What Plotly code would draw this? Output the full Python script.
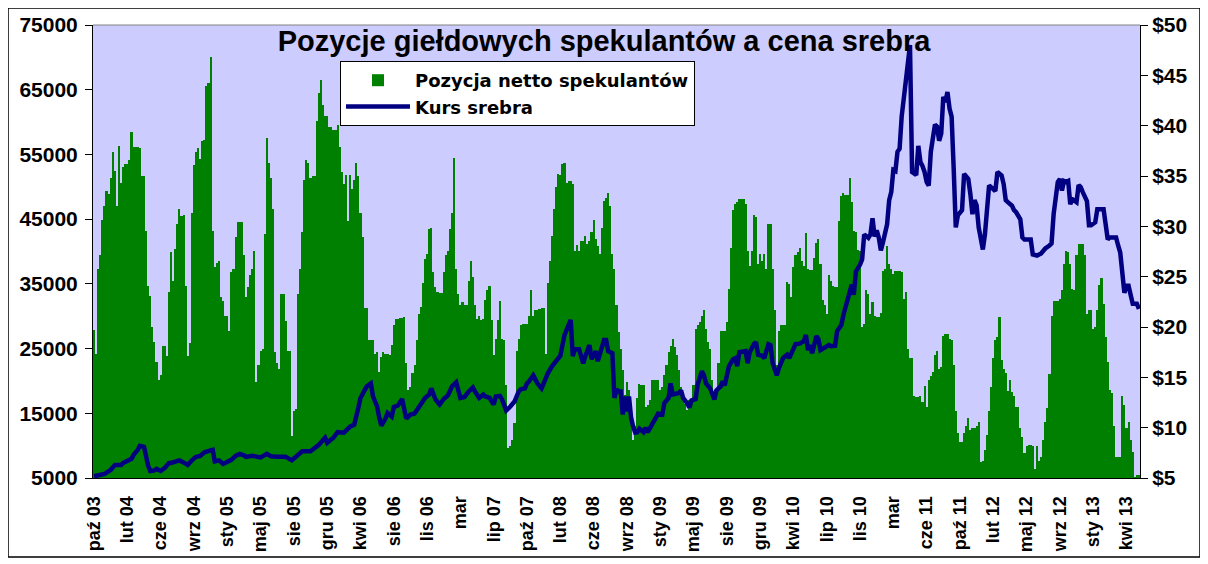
import plotly.graph_objects as go

# pozycja netto spekulantów, tygodniowo od paź 2003 (odczyt z wykresu)
net_position = [
    27900, 24200, 37300, 39400, 44900, 47000, 49400, 48900, 51400, 55400,
    52500, 47000, 56300, 50600, 53000, 53500, 53500, 54100, 58400, 56100,
    56100, 56100, 56000, 51600, 51600, 43200, 34600, 33100, 28400, 26000,
    23000, 20100, 20900, 25400, 25400, 23800, 33700, 39900, 35400, 40400,
    44200, 46500, 45500, 45700, 34600, 23800, 25800, 46000, 53400, 55300,
    56000, 54300, 57000, 57200, 65500, 66000, 70000, 43100, 37600, 38300,
    38500, 33000, 32400, 30100, 30100, 27700, 36900, 37300, 42200, 44600,
    44500, 44500, 39400, 33000, 34500, 36400, 37300, 40100, 19900, 22400,
    24700, 25000, 42700, 57500, 53700, 51400, 46500, 24500, 22800, 21900,
    33500, 33400, 29300, 24600, 24600, 11500, 15300, 15600, 33400, 37300,
    43000, 51000, 54200, 53700, 51400, 51600, 51700, 60200, 64500, 66500,
    62700, 61000, 61000, 59200, 59200, 58800, 58700, 59500, 56100, 52300,
    50400, 51800, 44700, 51800, 49600, 51100,
    53700, 51700, 46000, 42200, 31300, 31300, 26400, 26300, 26400, 24200,
    24500, 21400, 23700, 24500, 24200, 24200, 24000, 25500, 28600, 29600,
    29600, 29700, 29700, 29900, 22700, 18600, 19100, 21200, 22400, 26300,
    30400, 31400, 35100, 38800, 39600, 43500, 43700, 36800, 34500, 33700,
    33600, 33600, 36900, 39400, 40100, 43500, 46000, 54500, 37300, 33500,
    31700, 32200, 31700, 31700, 35500, 38500, 36000, 31700, 29600, 30000,
    29400, 29600, 32500, 34000, 34700, 29400, 24000, 26500, 29400, 32400,
    26500, 26300, 19400, 9600, 9900, 10900, 13500, 24700, 26500, 28600,
    28800, 28800, 28800, 30100, 34000, 30100, 30900, 31000, 31100, 31300,
    31300, 24200, 35100, 38600, 42400, 46500, 49900, 51900, 51800, 53500,
    53700, 50600, 50900, 50900, 50400, 40100, 41000, 40100, 41700, 41700,
    42400, 41200, 41700, 43000, 44800, 41900, 40900, 39600, 43600, 47800,
    48300, 49100, 47000, 39600, 37300,
    31700, 27600, 25000, 21700, 17800, 19900, 18600, 14000, 10900, 13000,
    17300, 19600, 19400, 19400, 16000, 16300, 17000, 20100, 20100, 20200,
    20200, 18600, 19100, 20900, 22400, 24500, 25400, 26500, 25300, 24000,
    21700, 19100, 17800, 16500, 15500, 17000, 17000, 19400, 28100, 28600,
    29100, 30100, 30900, 28100, 26000, 25000, 20100, 18300, 18800, 22700,
    27700, 27700, 27700, 29100, 34200, 40600, 46400, 47400, 47600, 48100,
    48100, 48100, 47300, 40100, 37800, 40100, 45700, 45300, 38100, 39600,
    38600, 39600, 37300, 44300, 44200, 37300, 30900, 22400, 27700, 28700,
    28700, 28700, 35300, 35000, 33000, 37600, 39400, 39900, 40500, 38600,
    37800, 42800, 37300, 37200, 37200, 39000, 41300, 41900, 38000, 32500,
    31700, 30400, 36300, 35500, 34700, 34500, 34500, 44700, 48600, 49100,
    48800, 48800, 51400, 47600, 43200, 43000, 40200, 40100, 28300, 28800,
    34000, 33400, 30400, 32200, 30100,
    29900, 29900, 30500, 37000, 37300, 40900, 38100, 37300, 36500, 37000,
    37000, 37000, 36800, 32700, 33700, 25000, 23500, 23600, 17700, 17500,
    17500, 17700, 16800, 19200, 16000, 20200, 20700, 21400, 24000, 24700,
    21900, 22200, 26900, 27200, 27200, 26500, 26300, 22400, 15400, 11900,
    10500, 10600, 11900, 13000, 14200, 12400, 12700, 12700, 13000, 13700,
    7400, 7600, 9400, 11700, 15300, 19000, 23500, 26400, 26800, 29900,
    23200, 21900, 21200, 18500, 20100, 18300, 17600, 16000, 15900, 12700,
    11400, 8800, 9900, 10100, 10100, 10000, 6400, 9900, 7600, 8200,
    10900, 13700, 15800, 21000, 30100, 32400, 32400, 32400, 32700, 34000,
    38100, 40100, 39900, 38100, 34200, 34000, 39400, 41200, 41200, 41200,
    39400, 30400, 30900, 30900, 28100, 28400, 31000, 34900, 35900, 31900,
    26800, 23000, 18600, 18100, 13000, 8300, 8200, 8200, 17700, 16300,
    12700, 13700, 10900, 9000, 5200, 5400, 5400,
]

# kurs srebra (USD) - numer tygodnia i cena
silver_week = [
    0, 5, 8, 10, 13, 14, 18, 19, 21, 22, 24, 25, 26, 27, 29, 30, 32, 34, 36, 37,
    39, 41, 43, 45, 47, 49, 51, 53, 56, 57, 58, 60, 62, 64, 66, 68, 70, 72, 73, 76,
    78, 80, 83, 85, 88, 91, 92, 95, 97, 100, 104, 105, 108, 111, 112, 115, 117, 120, 123, 125,
    126, 127, 128, 130, 131, 133, 134, 135, 136, 137, 138, 140, 141, 143, 144, 146, 148, 150, 152, 154,
    156, 159, 161, 162, 164, 166, 168, 170, 172, 174, 176, 178, 180, 182, 183, 185, 187, 188, 190, 192,
    193, 195, 196, 198, 200, 202, 204, 205, 207, 208, 209, 211, 212, 213, 215, 216, 218, 220, 221, 223,
    224, 226, 228, 229, 230, 231, 233, 235, 236, 238, 239, 241, 242, 244, 245, 246, 247, 249, 250, 251,
    252, 253, 254, 255, 256, 257, 258, 259, 260, 261, 262, 264, 265, 266, 268, 269, 271, 273, 274, 276,
    277, 278, 281, 282, 283, 285, 286, 287, 289, 290, 292, 293, 294, 296, 298, 299, 301, 302, 303, 305,
    307, 308, 309, 310, 313, 314, 315, 317, 318, 319, 321, 322, 324, 325, 326, 328, 329, 331, 333, 334,
    336, 337, 339, 341, 342, 343, 344, 345, 347, 348, 349, 351, 353, 354, 356, 357, 359, 360, 361, 363,
    364, 365, 366, 368, 369, 370, 372, 373, 374, 375,
    376, 377, 378, 379, 380, 381, 382, 383, 384, 385, 386, 387, 388, 389, 390, 391, 392, 393, 394, 395,
    396, 397, 398, 399, 400, 401, 402, 403, 404, 405, 406, 407, 408, 409, 410, 411, 412, 413, 414, 415,
    416, 417, 418, 419, 420, 421, 422, 423, 424, 425, 426, 427, 428, 429, 430, 432, 433, 434, 436, 437,
    438, 439, 441, 442, 443, 445, 446, 447, 450, 451, 453, 455, 457, 459, 460, 461, 462, 463, 464, 465,
    466, 467, 468, 469, 470, 472, 473, 474, 475, 477, 478, 479, 481, 482, 485, 486, 487, 488, 491, 492,
    493, 495, 496, 497, 498, 499, 501, 502,
]
silver_usd = [
    5.17, 5.4, 5.8, 6.3, 6.3, 6.5, 6.9, 7.3, 7.8, 8.2, 8.1, 7.0, 6.2, 5.7, 5.75, 5.9, 5.7, 6.0, 6.5, 6.5,
    6.65, 6.75, 6.55, 6.3, 6.75, 7.1, 7.2, 7.55, 7.75, 7.8, 6.65, 6.75, 6.4, 6.65, 6.8, 7.2, 7.4, 7.25, 7.1, 7.2,
    7.15, 7.05, 7.4, 7.15, 7.1, 7.15, 7.1, 6.75, 7.15, 7.65, 7.65, 7.8, 8.3, 9.0, 8.5, 9.0, 9.55, 9.5, 10.1, 10.3,
    11.45, 12.0, 12.95, 13.8, 14.1, 14.4, 13.1, 12.6, 12.1, 11.0, 10.2, 10.9, 11.45, 11.1, 12.05, 12.2, 12.85, 10.9, 11.3, 11.4,
    12.1, 12.95, 13.3, 13.9, 12.8, 12.3, 12.85, 13.2, 14.1, 14.5, 12.95, 13.05, 13.6, 14.0, 13.6, 12.95, 13.3, 13.1, 12.95, 12.3,
    13.1, 13.15, 12.8, 11.7, 12.1, 12.6, 13.6, 13.8, 13.9, 14.4, 14.6, 15.2, 14.8, 14.4, 13.9, 14.4, 15.4, 16.1, 16.4, 16.9,
    17.15, 19.2, 20.1, 20.7, 17.1, 17.8, 17.8, 16.4, 17.1, 18.2, 16.8, 17.6, 16.6, 18.1, 18.7, 18.7, 17.6, 17.4, 12.95, 13.8,
    13.6, 13.6, 11.3, 13.1, 11.6, 13.1, 11.0, 10.1, 9.5, 9.55, 9.9, 9.55, 10.0, 9.55, 10.3, 10.8, 11.4, 11.3, 12.45, 12.95,
    14.4, 13.3, 13.45, 13.7, 12.95, 12.4, 12.0, 12.7, 12.85, 14.3, 15.6, 15.2, 14.4, 13.9, 12.8, 13.7, 14.1, 14.6, 14.2, 16.1,
    16.8, 16.9, 16.1, 17.5, 17.6, 16.4, 17.5, 18.3, 18.5, 17.25, 17.15, 16.9, 18.3, 18.2, 16.4, 15.2, 15.9, 16.9, 17.25, 16.9,
    17.9, 18.3, 18.35, 18.6, 19.2, 17.7, 18.2, 17.4, 19.1, 18.8, 17.7, 17.9, 18.2, 18.1, 18.15, 19.6, 20.2, 21.2, 22.05, 23.5,
    24.2, 23.2, 25.5, 26.2, 26.7, 29.2, 28.85, 29.2, 30.8, 29.0,
    29.6, 28.9, 27.6, 28.4, 29.4, 30.2, 32.6, 33.4, 35.6, 35.5, 37.4, 37.7, 40.9, 42.8, 44.5, 45.7, 48.0, 35.4, 35.2, 35.1,
    38.0, 36.4, 36.0, 35.4, 34.4, 34.05, 37.4, 39.0, 40.1, 39.9, 38.5, 39.2, 42.85, 42.35, 43.35, 41.7, 40.9, 35.7, 29.9, 31.1,
    31.4, 31.6, 35.2, 35.0, 34.7, 33.2, 31.2, 32.6, 32.1, 29.9, 28.7, 27.7, 29.2, 31.4, 34.05, 33.7, 33.5, 35.4, 35.05, 34.2,
    32.6, 32.4, 32.05, 31.6, 31.4, 30.7, 28.9, 28.7, 28.7, 27.2, 27.1, 27.3, 27.8, 28.1, 28.3, 31.2, 32.6, 34.4, 34.7, 33.55,
    34.5, 34.4, 34.5, 32.2, 32.7, 32.4, 34.1, 33.9, 33.4, 32.5, 30.1, 30.1, 30.4, 31.7, 31.7, 29.7, 28.7, 28.9, 28.9, 28.1,
    27.4, 23.4, 24.1, 24.1, 23.3, 22.3, 22.3, 21.8,
]

month_labels = [
    "paź 03", "lut 04", "cze 04", "wrz 04", "sty 05", "maj 05", "sie 05", "gru 05",
    "kwi 06", "sie 06", "lis 06", "mar", "lip 07", "paź 07", "lut 08", "cze 08",
    "wrz 08", "sty 09", "maj 09", "sie 09", "gru 09", "kwi 10", "lip 10", "lis 10",
    "mar", "cze 11", "paź 11", "lut 12", "maj 12", "wrz 12", "sty 13", "kwi 13",
]
label_every = 16
tick_every = 9

W, H = 1208, 564
PAGE = 8  # domyślny margines <body> w przeglądarce
# obszar wykresu w pikselach ekranu: x 93..1140, y 25..478
L, R, T, B = 93 - PAGE, W - 1140 + PAGE, 25 - PAGE, H - 478 + PAGE
pw, ph = W - L - R, H - T - B


def fx(px):
    return (px - PAGE - L) / pw


def fy(py):
    return (H - B - (py - PAGE)) / ph


FONT = "Liberation Sans, Arial, sans-serif"
tick_font = dict(family=FONT, size=21, color="black", weight="bold")

weeks = list(range(len(net_position)))
xr = [-0.5, len(net_position) - 0.5]

fig = go.Figure()
fig.add_trace(go.Bar(
    x=weeks, y=net_position, width=1,
    name="Pozycja netto spekulantów",
    marker=dict(color="#008000", line=dict(width=0)),
))
fig.add_trace(go.Scatter(
    x=silver_week, y=silver_usd, yaxis="y2", mode="lines",
    name="Kurs srebra",
    line=dict(color="#000080", width=4.5),
))

# osie pomocnicze tylko do kresek podziałki (krzyżujące się z osią)
tick_only = dict(showticklabels=False, showline=False, showgrid=False,
                 zeroline=False, tickcolor="black", automargin=False)

fig.update_layout(
    width=W, height=H,
    margin=dict(l=L, r=R, t=T, b=B, autoexpand=False),
    paper_bgcolor="white",
    plot_bgcolor="#CCCCFF",
    bargap=0,
    showlegend=True,
    title=dict(
        text="Pozycje giełdowych spekulantów a cena srebra",
        x=(604 - PAGE) / W, xref="container", xanchor="center",
        y=1 - (41 - PAGE) / H, yref="container", yanchor="middle",
        font=dict(family=FONT, size=29, color="black", weight="bold"),
    ),
    legend=dict(
        x=fx(340), y=fy(61), xanchor="left", yanchor="top",
        bgcolor="white", bordercolor="black", borderwidth=1,
        font=dict(family="DejaVu Sans, sans-serif", size=18, color="black", weight="bold"),
        itemwidth=64, tracegroupgap=0,
    ),
    xaxis=dict(
        range=xr, tickmode="array",
        tickvals=[i * label_every for i in range(len(month_labels))],
        ticktext=month_labels, tickangle=-90, ticks="",
        ticklabelstandoff=10, automargin=False,
        showline=True, linecolor="black", linewidth=1,
        showgrid=False, zeroline=False,
        tickfont=dict(family=FONT, size=18, color="black", weight="bold"),
    ),
    xaxis2=dict(overlaying="x", anchor="y", range=xr, tickmode="linear",
                tick0=-0.5, dtick=tick_every, ticks="outside", ticklen=7,
                **tick_only),
    xaxis3=dict(overlaying="x", anchor="y", range=xr, tickmode="linear",
                tick0=-0.5, dtick=tick_every, ticks="inside", ticklen=5,
                **tick_only),
    yaxis=dict(
        range=[5000, 75000], tickmode="linear", tick0=5000, dtick=10000,
        tickformat="d", ticks="outside", ticklen=7, tickcolor="black",
        ticklabelstandoff=3,
        showline=True, linecolor="black", linewidth=1, automargin=False,
        showgrid=False, zeroline=False, tickfont=tick_font,
    ),
    yaxis2=dict(
        overlaying="y", side="right", anchor="x",
        range=[5, 50], tickmode="linear", tick0=5, dtick=5, tickprefix="$",
        ticks="outside", ticklen=7, tickcolor="black", automargin=False,
        showline=True, linecolor="black", linewidth=1,
        showgrid=False, zeroline=False, tickfont=tick_font,
    ),
    yaxis3=dict(overlaying="y", side="left", anchor="x", range=[5000, 75000],
                tickmode="linear", tick0=5000, dtick=10000, ticks="inside",
                ticklen=6, **tick_only),
    yaxis4=dict(overlaying="y", side="right", anchor="x", range=[5, 50],
                tickmode="linear", tick0=5, dtick=5, ticks="inside",
                ticklen=6, **tick_only),
    shapes=[
        dict(type="line", xref="paper", yref="paper", x0=0, x1=1, y0=1, y1=1,
             line=dict(color="#808080", width=1)),
        dict(type="rect", xref="paper", yref="paper",
             x0=fx(8), x1=fx(1200), y0=fy(557), y1=fy(8),
             line=dict(color="black", width=1.5)),
    ],
)

fig.write_html("out.html")
